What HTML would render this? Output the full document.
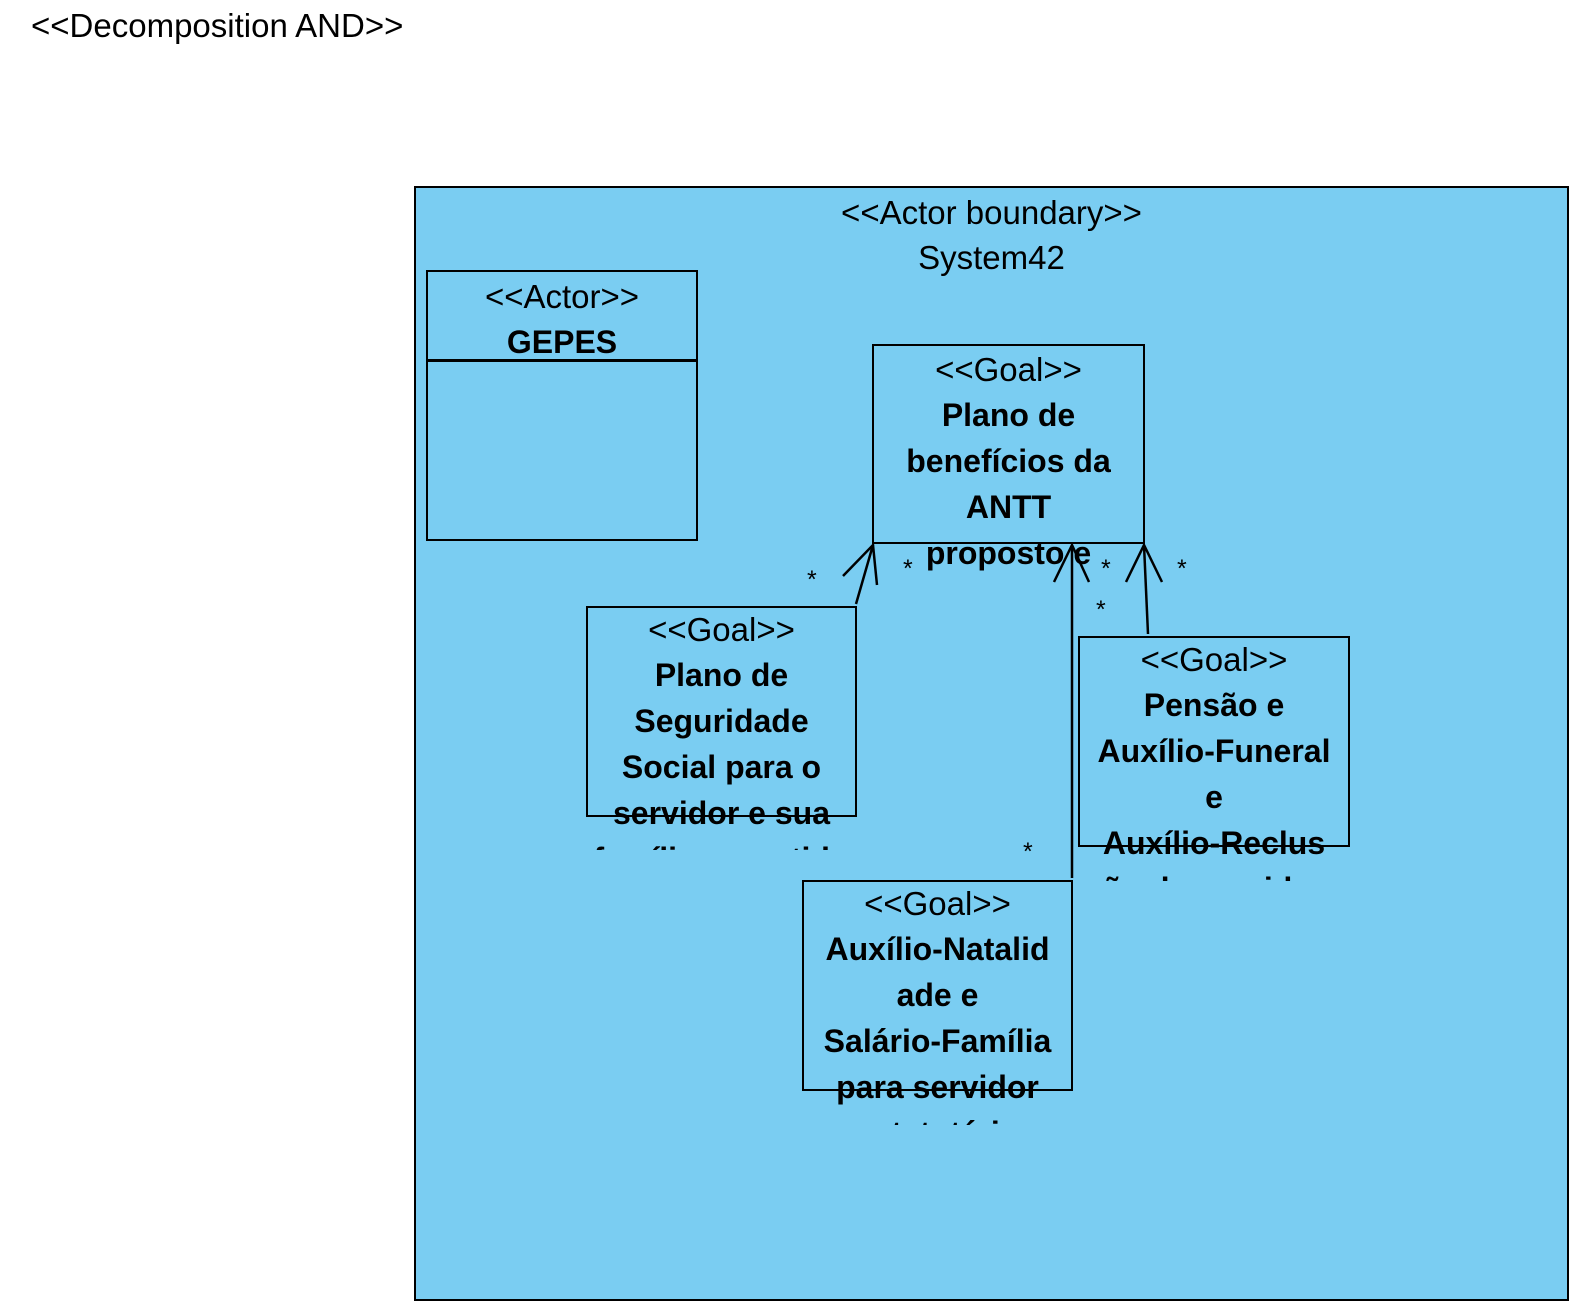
<!DOCTYPE html>
<html><head><meta charset="utf-8"><style>
body{margin:0;width:1581px;height:1314px;background:#fff;position:relative;overflow:hidden;font-family:"Liberation Sans",Arial,sans-serif;color:#000}
.abs{position:absolute}
.box{position:absolute;border:2.5px solid #000;box-sizing:border-box}
.txt{position:absolute;text-align:center;overflow:hidden;white-space:nowrap;line-height:45px;font-size:33px}
.txt b{font-size:32px}
.star{position:absolute;font-size:25px;line-height:25px}
</style></head><body>
<div class="abs" style="left:31px;top:6px;font-size:33px;line-height:40px">&lt;&lt;Decomposition AND&gt;&gt;</div>
<div class="box" style="left:414px;top:186px;width:1155px;height:1115px;background:#7ACDF2"></div>
<div class="txt" style="left:414px;top:190px;width:1155px;">&lt;&lt;Actor boundary&gt;&gt;<br>System42</div>

<div class="box" style="left:426px;top:270px;width:272px;height:271px"></div>
<div class="abs" style="left:426px;top:359px;width:272px;height:2.5px;background:#000"></div>
<div class="txt" style="left:426px;top:274px;width:272px;">&lt;&lt;Actor&gt;&gt;<br><b>GEPES</b></div>

<div class="box" style="left:872px;top:344px;width:273px;height:200px"></div>
<div class="txt" style="left:872px;top:347px;width:273px;height:229px">&lt;&lt;Goal&gt;&gt;<br><b>Plano de<br>benefícios da<br>ANTT<br>proposto e<br>aprovado</b></div>

<div class="box" style="left:586px;top:606px;width:271px;height:211px"></div>
<div class="txt" style="left:586px;top:607px;width:271px;height:243px">&lt;&lt;Goal&gt;&gt;<br><b>Plano de<br>Seguridade<br>Social para o<br>servidor e sua<br>família garantido</b></div>

<div class="box" style="left:1078px;top:636px;width:272px;height:211px"></div>
<div class="txt" style="left:1078px;top:637px;width:272px;height:244px">&lt;&lt;Goal&gt;&gt;<br><b>Pensão e<br>Auxílio-Funeral<br>e<br>Auxílio-Reclus<br>ão do servidor</b></div>

<div class="box" style="left:802px;top:880px;width:271px;height:211px"></div>
<div class="txt" style="left:802px;top:881px;width:271px;height:244px">&lt;&lt;Goal&gt;&gt;<br><b>Auxílio-Natalid<br>ade e<br>Salário-Família<br>para servidor<br>estatutário</b></div>

<svg class="abs" style="left:0;top:0" width="1581" height="1314">
<g stroke="#000" stroke-width="2.5" fill="none">
<line x1="856" y1="604" x2="873" y2="545"/>
<polyline points="843,576 873,545 877,585"/>
<line x1="1072" y1="878" x2="1072" y2="545"/>
<polyline points="1054,582 1072,545 1089,582"/>
<line x1="1148" y1="634" x2="1144" y2="545"/>
<polyline points="1126,582 1144,545 1162,582"/>
</g>
</svg>
<div class="star" style="left:807px;top:568px">*</div>
<div class="star" style="left:903px;top:557px">*</div>
<div class="star" style="left:1101px;top:557px">*</div>
<div class="star" style="left:1177px;top:557px">*</div>
<div class="star" style="left:1096px;top:598px">*</div>
<div class="star" style="left:1023px;top:840px">*</div>
</body></html>
